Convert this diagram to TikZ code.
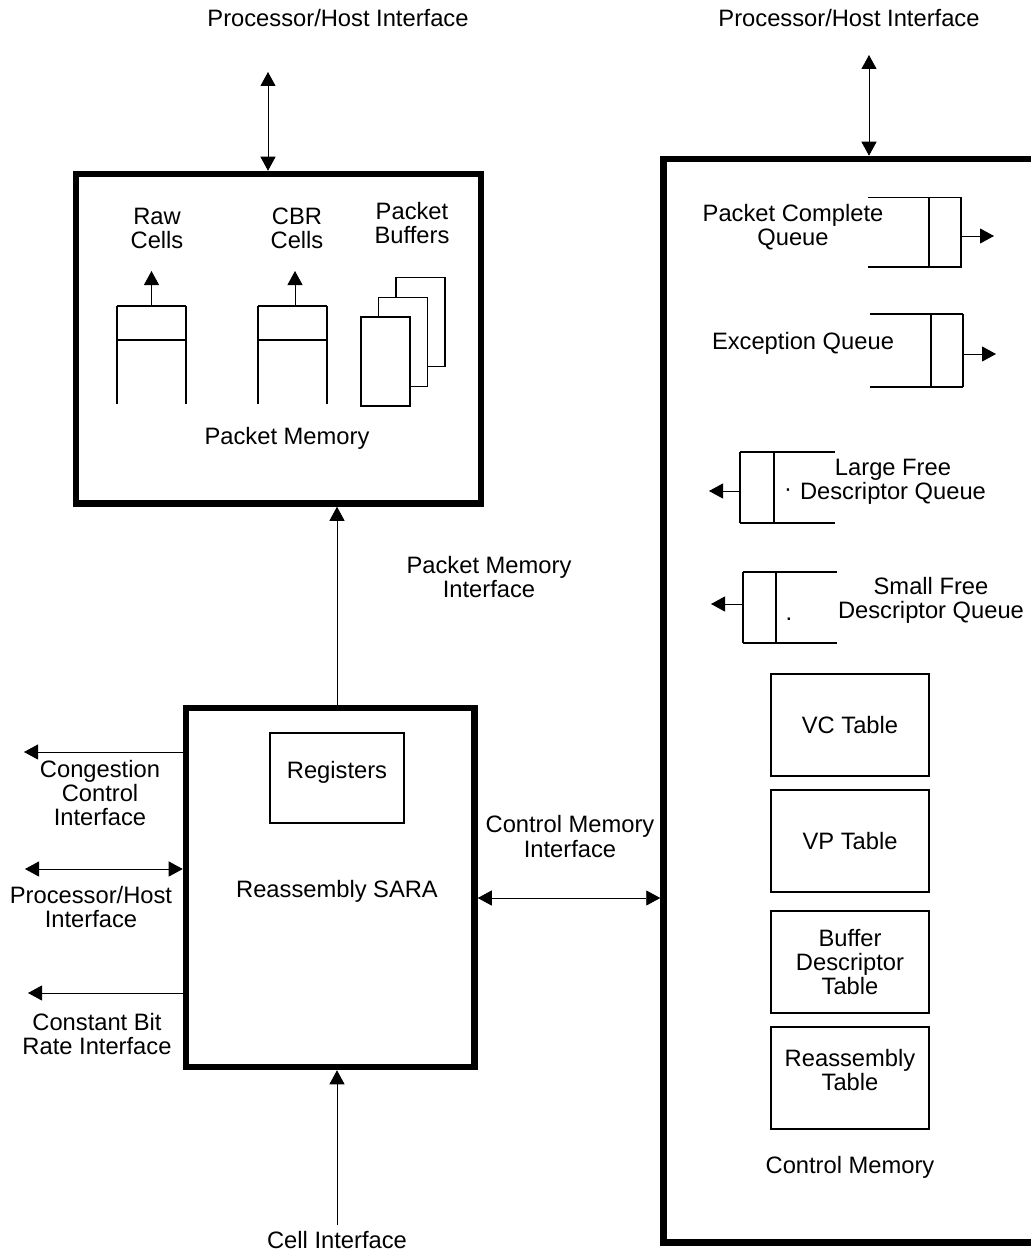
\documentclass[tikz,border=0pt]{standalone}
\usepackage{fontspec}
\setmainfont{Liberation Sans}
\usetikzlibrary{arrows.meta}
\tikzset{
    bigbox/.style={draw,line width=1.3mm,inner sep=0pt},
    tablebox/.style={draw,line width=0.6pt,inner sep=0pt,
        minimum width=31.6mm,minimum height=20.4mm,align=center},
    lbl/.style={align=center,inner sep=0pt},
    conn/.style={line width=0.5pt,-{Triangle[length=2.8mm,width=3mm]}},
    dconn/.style={line width=0.5pt,
        {Triangle[length=2.8mm,width=3mm]}-{Triangle[length=2.8mm,width=3mm]}},
    qline/.style={line width=0.6pt}
}
\begin{document}
\begin{tikzpicture}[x=0.2mm,y=-0.2mm,
    font=\fontsize{13.5pt}{13.7pt}\selectfont]
    \clip (0,0) rectangle (1031,1253);
    % main blocks
    \node[bigbox,minimum width=81mm,minimum height=65.9mm] (pm) at (278.5,338.75) {};
    \node[bigbox,minimum width=57.7mm,minimum height=71.8mm] (sara) at (330.25,887.5) {};
    \node[bigbox,minimum width=87.3mm,minimum height=216.7mm] (cm) at (881.75,700.75) {};
    % host interfaces on top
    \node[lbl] (pmhost) at (338,18) {Processor/Host Interface};
    \node[lbl] (cmhost) at (849,18) {Processor/Host Interface};
    \coordinate (pmhosttip) at (268,72);
    \coordinate (cmhosttip) at (869,55);
    \draw[dconn] (pmhosttip) -- (pmhosttip |- pm.north);
    \draw[dconn] (cmhosttip) -- (cmhosttip |- cm.north);
    % packet memory contents
    \foreach \qx in {117,258} {
        \draw[qline] (\qx,306) -- (\qx,404) (\qx+69,306) -- (\qx+69,404)
            (\qx,306) -- (\qx+69,306) (\qx,340) -- (\qx+69,340);
    }
    \coordinate (rawq) at (151.5,306);
    \coordinate (rawout) at (151.5,271);
    \coordinate (cbrq) at (295,306);
    \coordinate (cbrout) at (295,271);
    \draw[conn] (rawq) -- (rawout);
    \draw[conn] (cbrq) -- (cbrout);
    \foreach \i in {2,1,0}
        \draw[qline,fill=white] ({361+17.5*\i},{317-19.7*\i}) rectangle +(49,89);
    \node[lbl] (rawlbl) at (157,228.5) {Raw\\Cells};
    \node[lbl] (cbrlbl) at (297,228.5) {CBR\\Cells};
    \node[lbl] (buflbl) at (412,223) {Packet\\Buffers};
    \node[lbl] (pmlbl) at (287,438) {Packet Memory};
    % SARA contents
    \node[draw,line width=0.6pt,minimum width=26.8mm,minimum height=18mm] (regs) at (337,778) {};
    \node[lbl] (regslbl) at (337,772) {Registers};
    \node[lbl] (saralbl) at (337,891) {Reassembly SARA};
    % packet memory interface
    \coordinate (pmif) at (337,600);
    \draw[conn] (sara.north -| pmif) -- (pm.south -| pmif);
    \node[lbl] (pmiflbl) at (489,577) {Packet Memory\\Interface};
    % left side interfaces
    \coordinate (congout) at (24,752);
    \coordinate (hostout) at (25,869);
    \coordinate (cbrout2) at (28,993);
    \draw[conn] (sara.west |- congout) -- (congout);
    \draw[dconn] (hostout) -- (sara.west |- hostout);
    \draw[conn] (sara.west |- cbrout2) -- (cbrout2);
    \node[lbl] (conglbl) at (100,793) {Congestion\\Control\\Interface};
    \node[lbl] (hostlbl) at (91,907) {Processor/Host\\Interface};
    \node[lbl] (cbrlbl2) at (97,1034) {Constant Bit\\Rate Interface};
    % cell interface
    \coordinate (cellin) at (337,1225);
    \draw[conn] (cellin) -- (cellin |- sara.south);
    \node[lbl] (celllbl) at (337,1240) {Cell Interface};
    % control memory interface
    \coordinate (cmif) at (560,898);
    \draw[dconn] (sara.east |- cmif) -- (cm.west |- cmif);
    \node[lbl] (cmiflbl) at (570,836.5) {Control Memory\\Interface};
    % control memory queues
    \draw[qline] (868,197.7) -- (962,197.7) (868,267) -- (962,267)
        (929,197.7) -- (929,267) (961,197.7) -- (961,267);
    \draw[qline] (870,314) -- (963,314) (870,387) -- (963,387)
        (931,314) -- (931,387) (963,314) -- (963,387);
    \draw[qline] (740,452) -- (835,452) (740,523) -- (835,523)
        (740,452) -- (740,523) (774,452) -- (774,523);
    \draw[qline] (743,572) -- (837,572) (743,643) -- (837,643)
        (743,572) -- (743,643) (776,572) -- (776,643);
    \coordinate (pcqin) at (961,236);
    \coordinate (pcqout) at (994,236);
    \coordinate (exqin) at (963,354);
    \coordinate (exqout) at (996,354);
    \coordinate (lfqin) at (740,491);
    \coordinate (lfqout) at (709,491);
    \coordinate (sfqin) at (743,604);
    \coordinate (sfqout) at (711,604);
    \draw[conn] (pcqin) -- (pcqout);
    \draw[conn] (exqin) -- (exqout);
    \draw[conn] (lfqin) -- (lfqout);
    \draw[conn] (sfqin) -- (sfqout);
    \node[lbl] (pcqlbl) at (793,227) {Packet Complete\\Queue};
    \node[lbl] (exqlbl) at (803,343) {Exception Queue};
    \node[lbl] (lfqlbl) at (893,482) {Large Free\\Descriptor Queue};
    \node[lbl] (sfqlbl) at (931,600) {Small Free\\Descriptor Queue};
    \node[lbl] (lfqdot) at (788,493) {\textperiodcentered};
    \node[lbl,anchor=base] (sfqdot) at (789,620) {.};
    % control memory tables
    \node[tablebox] (vct) at (850,725) {VC Table};
    \node[tablebox] (vpt) at (850,841) {VP Table};
    \node[tablebox] (bdt) at (850,962) {Buffer\\Descriptor\\Table};
    \node[tablebox] (rat) at (850,1078) {};
    \node[lbl] (ratlbl) at (850,1070) {Reassembly\\Table};
    \node[lbl] (cmlbl) at (850,1167) {Control Memory};
\end{tikzpicture}
\end{document}
